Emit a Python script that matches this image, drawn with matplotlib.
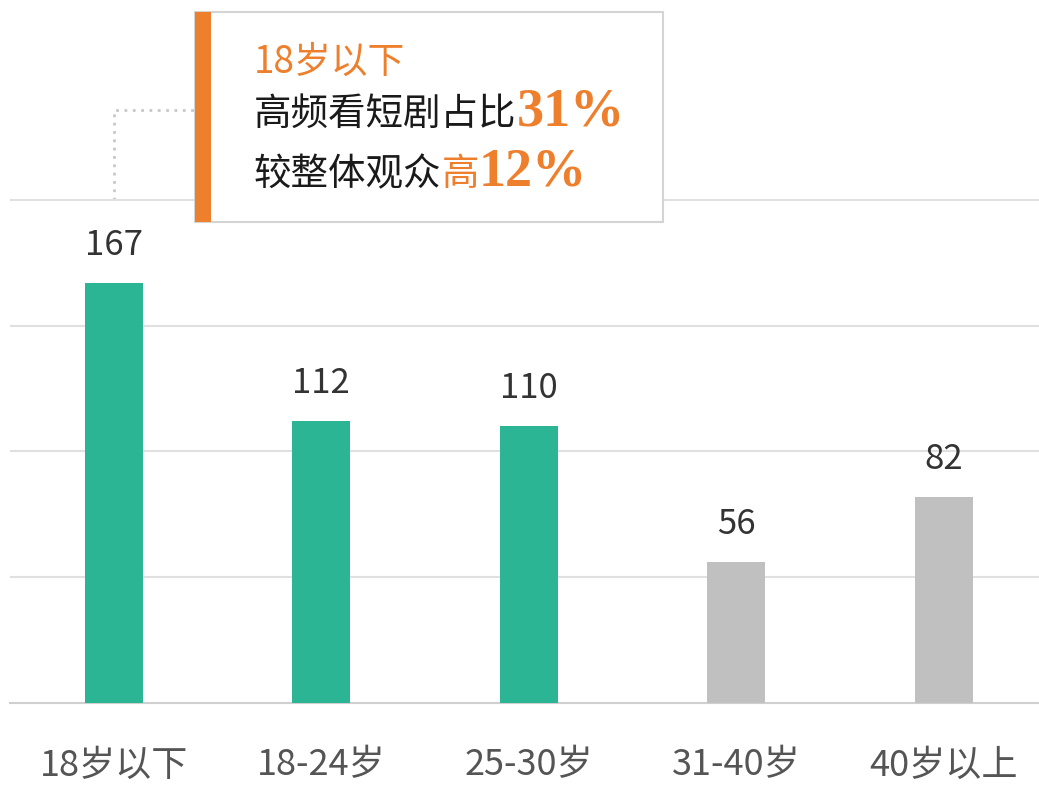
import matplotlib

matplotlib.use("Agg")
import matplotlib.pyplot as plt
from matplotlib.patches import Rectangle

plt.rcParams["font.family"] = ["Noto Sans CJK SC", "DejaVu Sans"]

categories = ["18岁以下", "18-24岁", "25-30岁", "31-40岁", "40岁以上"]
values = [167, 112, 110, 56, 82]
highlight = [True, True, True, False, False]

GREEN = "#2bb594"
GREY = "#c0c0c0"
ORANGE = "#ee7f2d"

W, H = 1039, 785
fig = plt.figure(figsize=(W / 100, H / 100), dpi=100)
ax = fig.add_axes([10 / W, (H - 703) / H, 1 - 10 / W, 703 / H])

colors = [GREEN if h else GREY for h in highlight]
xs = range(len(categories))
ax.bar(xs, values, width=0.28, color=colors, zorder=3)
for x, v in zip(xs, values):
    ax.annotate(str(v), (x, v), xytext=(0, 20), textcoords="offset pixels",
                ha="center", va="bottom", fontsize=25, color="#333333")

ax.set_xlim(-0.5, 4.46)
ax.set_ylim(0, 279.5)
ax.set_yticks([50, 100, 150, 200])
ax.yaxis.grid(True, color="#e0e0e0", lw=1.5, zorder=0)
ax.tick_params(axis="y", length=0, labelleft=False)
ax.tick_params(axis="x", length=0, pad=32, labelsize=26, labelcolor="#555555")
ax.set_xticks(list(xs))
ax.set_xticklabels(categories)
for s in ["top", "right", "left"]:
    ax.spines[s].set_visible(False)
ax.spines["bottom"].set_color("#d0d0d0")
ax.spines["bottom"].set_linewidth(1.5)

# dotted connector from first bar to the callout
x_box = (195 - 113) / 207.3
y_top = 200 + 90 / 2.515
ax.plot([0, 0, x_box], [200, y_top, y_top], ls=(0, (1, 2)), color="#c8c8c8",
        lw=2, clip_on=False, zorder=1)

# callout box
fig.patches.append(Rectangle((195 / W, (H - 222) / H), 468 / W, 210 / H,
                             transform=fig.transFigure, facecolor="white",
                             edgecolor="#d4d4d4", lw=1.5, zorder=5))
fig.patches.append(Rectangle((195 / W, (H - 222) / H), 16 / W, 210 / H,
                             transform=fig.transFigure, facecolor=ORANGE,
                             edgecolor="none", zorder=6))

renderer = fig.canvas.get_renderer()


def line(pieces, x_px, base_px):
    x = x_px
    for txt, color, kw in pieces:
        t = fig.text(x / W, (H - base_px) / H, txt, color=color,
                     va="baseline", ha="left", zorder=7, **kw)
        x += t.get_window_extent(renderer).width


cjk = dict(fontsize=27)
num = dict(fontsize=39, family="Liberation Serif", fontweight="bold")
line([("18岁以下", ORANGE, dict(fontsize=26.5))], 254, 73)
line([("高频看短剧占比", "#1a1a1a", cjk), ("31%", ORANGE, num)], 254, 125)
line([("较整体观众", "#1a1a1a", cjk), ("高", ORANGE, cjk),
      ("12%", ORANGE, num)], 254, 185)

fig.savefig("out.png", dpi=100)
